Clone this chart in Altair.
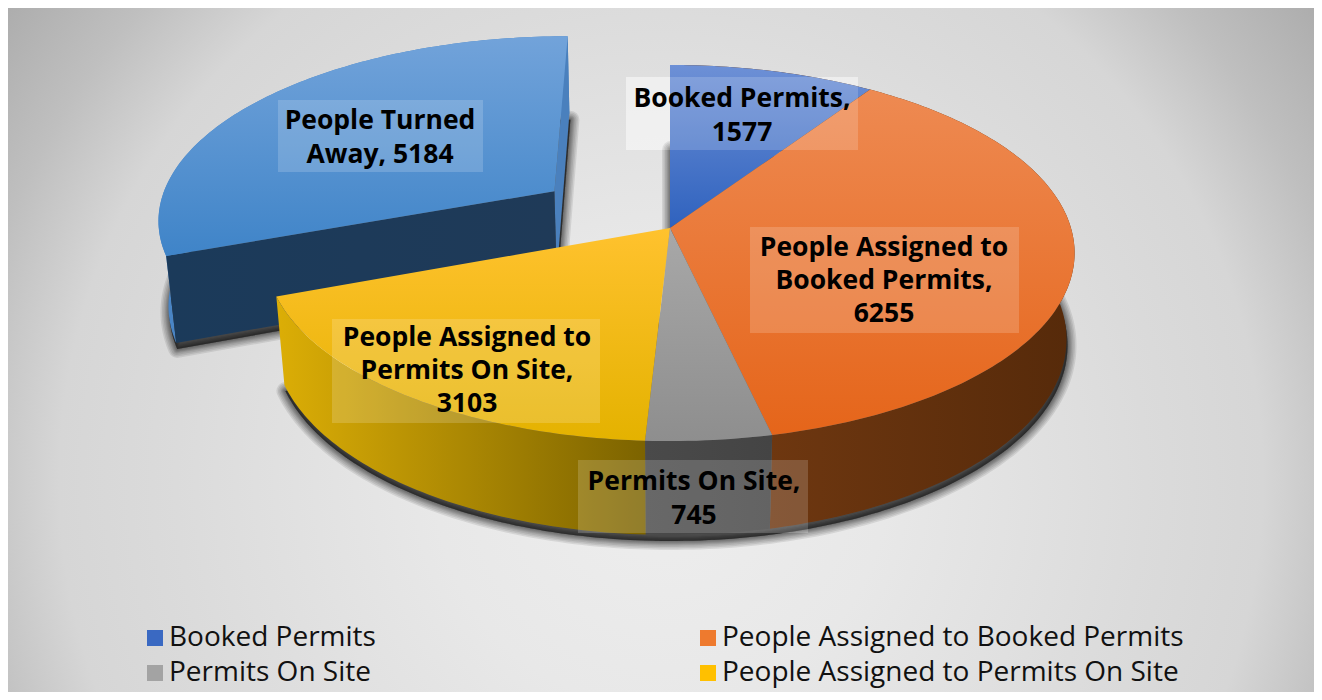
import math
import altair as alt
import pandas as pd

# ---- chart values -------------------------------------------------------
categories = ["Booked Permits", "People Assigned to Booked Permits", "Permits On Site",
              "People Assigned to Permits On Site", "People Turned Away"]
values = [1577, 6255, 745, 3103, 5184]
legend_categories = categories[:4]
legend_colors = ["#3a69c2", "#ee7a2e", "#a3a3a3", "#ffc000"]

label_lines = [["Booked Permits,", "1577"],
               ["People Assigned to", "Booked Permits,", "6255"],
               ["Permits On Site,", "745"],
               ["People Assigned to", "Permits On Site,", "3103"],
               ["People Turned", "Away, 5184"]]

# ---- styling / layout (reference pixel coordinates) ---------------------
W, H_PLOT = 1306, 684
X_DOM, Y_DOM = [8, 8 + W], [8 + H_PLOT, 8]
CX, CY, R, H, K, DEPTH, E = 670, 228, 401, 184.7, 0.133, 87.6, 0.02
EXPLODE = 0.36
FONT = "Open Sans"
label_boxes = [(626, 858, 77, 150), (750, 1019, 227, 333), (578, 808, 460, 533),
               (332, 600, 319, 423), (278, 483, 100, 172)]
label_centers = [(742, 98.5, 34), (884, 248, 33.2), (694, 481.5, 34), (467, 338, 33.2), (380, 120.5, 34)]

def vgrad(c1, c2):
    return alt.LinearGradient(gradient="linear", x1=0, x2=0, y1=0, y2=1,
                              stops=[alt.GradientStop(color=c1, offset=0), alt.GradientStop(color=c2, offset=1)])

def hgrad(c1, c2):
    return alt.LinearGradient(gradient="linear", x1=0, x2=1, y1=0, y2=0,
                              stops=[alt.GradientStop(color=c1, offset=0), alt.GradientStop(color=c2, offset=1)])

top_fill = [vgrad("#6d90d6", "#2f62be"), vgrad("#ee8a52", "#e5651a"), vgrad("#a8a8a8", "#8e8e8e"),
            vgrad("#ffc22e", "#e4b200"), vgrad("#72a3da", "#3f84c8")]
wall_fill = [hgrad("#5c2d0b", "#5c2d0b"), hgrad("#6e3710", "#562a0a"), hgrad("#4a4a4a", "#444444"),
             hgrad("#dcae06", "#7c6300"), hgrad("#4a85c5", "#4a85c5")]

def top(u, v):
    w = 1 + K * v
    return CX + R * u / w, CY - H * v / w

def bot(u, v):
    w = 1 + K * v + E
    return CX + R * u / w, CY + (-H * v + DEPTH) / w

def arc(a0, a1, ox=0.0, oy=0.0):
    n = max(2, int(abs(a1 - a0)))
    out = []
    for i in range(n + 1):
        a = math.radians(a0 + (a1 - a0) * i / n)
        out.append((math.sin(a) + ox, math.cos(a) + oy))
    return out

base = dict(
    x=alt.X("x:Q", scale=alt.Scale(domain=X_DOM, nice=False, zero=False), axis=None),
    y=alt.Y("y:Q", scale=alt.Scale(domain=Y_DOM, nice=False, zero=False), axis=None),
    order=alt.Order("i:Q"),
)

def poly(pts, **mark):
    pts = list(pts) + [pts[0]]
    df = pd.DataFrame({"x": [p[0] for p in pts], "y": [p[1] for p in pts], "i": range(len(pts))})
    mark.setdefault("strokeWidth", 0)
    return alt.Chart(df).mark_line(**mark).encode(**base)

def shadow(plane_pts):
    pts = [bot(u, v) for u, v in plane_pts]
    pts = [(x + 1, y + 6) for x, y in pts]
    out = []
    for sw in (18, 15, 12, 9, 7, 5, 3, 1):
        out.append(poly(pts, fill="#000000", fillOpacity=0.1, stroke="#000000", strokeOpacity=0.09,
                        strokeWidth=sw, strokeJoin="round"))
    return out

# ---- geometry from the values -------------------------------------------
total = sum(values)
edges = [0.0]
for v in values:
    edges.append(edges[-1] + 360.0 * v / total)

layers = []

# background
bg = alt.Chart(pd.DataFrame({"a": [0]})).mark_rect(
    fill=alt.RadialGradient(
        gradient="radial", x1=0.5, y1=0.6, x2=0.5, y2=0.6, r1=0, r2=0.64,
        stops=[alt.GradientStop(color="#eeeeee", offset=0),
               alt.GradientStop(color="#e8e8e8", offset=0.27),
               alt.GradientStop(color="#dbdbdb", offset=0.58),
               alt.GradientStop(color="#d6d6d6", offset=0.72),
               alt.GradientStop(color="#bfbfbf", offset=0.84),
               alt.GradientStop(color="#a8a8a8", offset=1)])
).encode(x=alt.value(0), x2=alt.value(W), y=alt.value(0), y2=alt.value(H_PLOT))
layers.append(bg)

box_df = pd.DataFrame([{"x": b[0], "x2": b[1], "y": b[2], "y2": b[3]} for b in label_boxes])
def boxes(opacity):
    return alt.Chart(box_df).mark_rect(fill="#ffffff", fillOpacity=opacity).encode(
        x=alt.X("x:Q", scale=alt.Scale(domain=X_DOM, nice=False, zero=False), axis=None), x2="x2:Q",
        y=alt.Y("y:Q", scale=alt.Scale(domain=Y_DOM, nice=False, zero=False), axis=None), y2="y2:Q")

# label boxes read brighter on the page background than on the slices
layers.append(boxes(0.4))

# exploded slice offset
a0, a1 = edges[4], edges[5]
mid = math.radians((a0 + a1) / 2)
ox, oy = EXPLODE * math.sin(mid), EXPLODE * math.cos(mid)
blue_arc = arc(a0, a1, ox, oy)
apex = (ox, oy)

layers += shadow([apex] + blue_arc)
layers += shadow([(0, 0)] + arc(0, edges[4]))

# exploded slice
layers.append(poly([top(*p) for p in blue_arc] + [bot(*p) for p in reversed(blue_arc)], fill=wall_fill[4]))
layers.append(poly([top(*blue_arc[-1]), top(*apex), bot(*apex), bot(*blue_arc[-1])], fill="#4a80bd"))
layers.append(poly([top(*apex), top(*blue_arc[0]), bot(*blue_arc[0]), bot(*apex)], fill=hgrad("#1b3a5a", "#1f3a58")))
layers.append(poly([top(*apex)] + [top(*p) for p in blue_arc], fill=top_fill[4]))

# walls of the main pie
for k in range(4):
    pts = arc(edges[k], edges[k + 1])
    layers.append(poly([top(*p) for p in pts] + [bot(*p) for p in reversed(pts)], fill=wall_fill[k]))
# tops of the main pie
for k in range(4):
    pts = arc(edges[k], edges[k + 1])
    layers.append(poly([top(0, 0)] + [top(*p) for p in pts], fill=top_fill[k]))

# data labels
layers.append(boxes(0.17))
rows = []
for lines, (cx, cy, dy) in zip(label_lines, label_centers):
    for j, t in enumerate(lines):
        rows.append({"x": cx, "y": cy + j * dy, "t": t})
layers.append(alt.Chart(pd.DataFrame(rows)).mark_text(
    font=FONT, fontSize=26.5, fontWeight="bold", color="#000000", align="center", baseline="middle"
).encode(
    x=alt.X("x:Q", scale=alt.Scale(domain=X_DOM, nice=False, zero=False), axis=None),
    y=alt.Y("y:Q", scale=alt.Scale(domain=Y_DOM, nice=False, zero=False), axis=None),
    text="t:N"))

# legend
leg_df = pd.DataFrame({"c": legend_categories, "x": [CX] * 4, "y": [CY] * 4})
layers.append(alt.Chart(leg_df).mark_point(filled=True, size=0, opacity=0).encode(
    x=alt.X("x:Q", scale=alt.Scale(domain=X_DOM, nice=False, zero=False), axis=None),
    y=alt.Y("y:Q", scale=alt.Scale(domain=Y_DOM, nice=False, zero=False), axis=None),
    color=alt.Color("c:N", scale=alt.Scale(domain=legend_categories, range=legend_colors),
                    sort=legend_categories,
                    legend=alt.Legend(title=None, orient="none", legendX=133, legendY=616, columns=2,
                                      direction="horizontal", symbolType="square", symbolSize=256,
                                      symbolOpacity=1, symbolStrokeWidth=0, labelFont=FONT,
                                      labelFontSize=28, labelColor="#111111", labelLimit=600,
                                      columnPadding=318, rowPadding=7, labelOffset=0))))

chart = alt.layer(*layers).properties(width=W, height=H_PLOT, padding=0, background="#ffffff").configure_view(stroke=None)
chart.save("out.html", embed_options={"renderer": "svg", "actions": False})
